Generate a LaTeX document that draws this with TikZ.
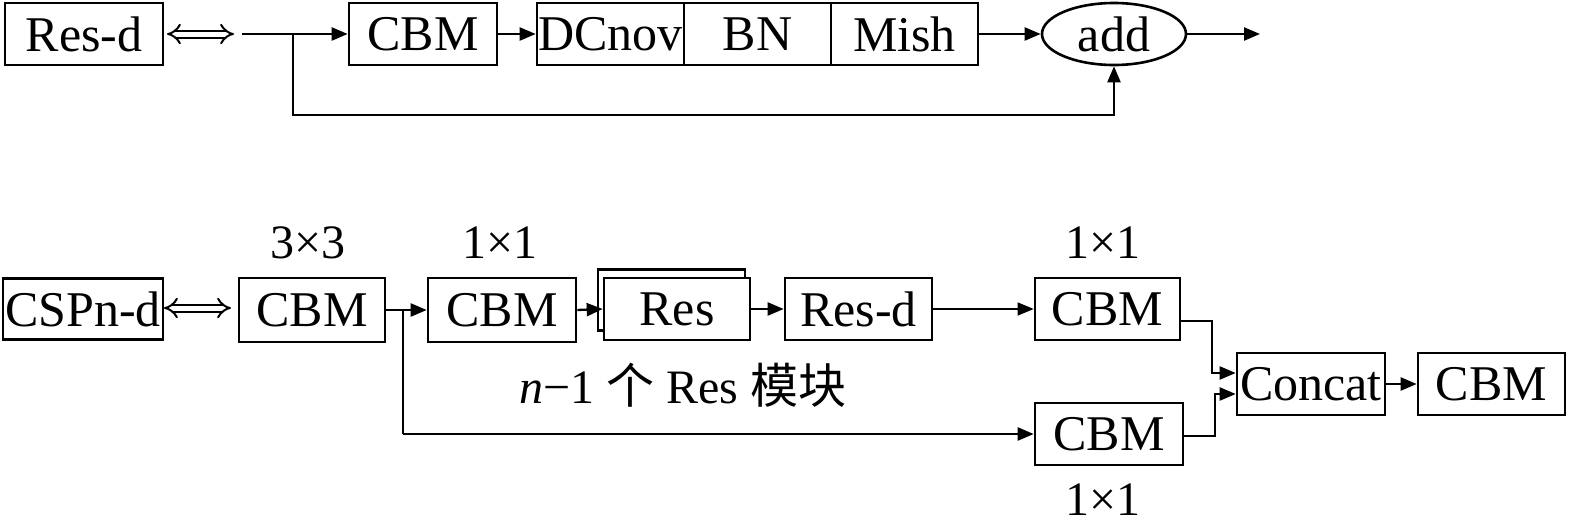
\documentclass[tikz,border=0pt]{standalone}
\usepackage{fontspec}
\setmainfont{Liberation Serif}
\newfontfamily\cjk{Noto Sans CJK SC}
\usetikzlibrary{arrows.meta,shapes.geometric}
\begin{document}
\begin{tikzpicture}[x=1pt,y=-1pt,
  box/.style={draw,line width=2.6pt,inner sep=0pt,font=\fontsize{50}{56}\selectfont,fill=white},
  lbl/.style={inner sep=0pt,font=\fontsize{48}{54}\selectfont},
  arr/.style={line width=2.3pt,-{Triangle[length=16pt,width=13pt]}},
  thin/.style={line width=1.1pt,-{Triangle[length=16pt,width=13pt]}},
  dbl/.style={double,double distance=5pt,line width=2pt,{Implies}-{Implies}}]
\useasboundingbox (0,0) rectangle (1575,530);
% ---------- top row ----------
\node[box,minimum width=158pt,minimum height=62pt] (resd1) at (84,34) {Res-d};
\coordinate (dA1) at (167,34);
\coordinate (dB1) at (234,34);
\draw[dbl] (dA1) -- (dB1);
\coordinate (in1) at (242,34);
\coordinate (br1) at (293,34);
\node[box,minimum width=148pt,minimum height=62pt] (cbm1) at (423,34) {CBM};
\node[box,minimum width=147pt,minimum height=62pt] (dc) at (610.5,34) {DCnov};
\node[box,minimum width=147pt,minimum height=62pt] (bn) at (757.5,34) {BN};
\node[box,minimum width=147pt,minimum height=62pt] (mish) at (904.5,34) {Mish};
\node[box,ellipse,minimum width=144pt,minimum height=62pt] (add) at (1114,34) {add};
\coordinate (out1) at (1260,34);
\coordinate (sk1) at (293,115);
\draw[arr] (in1) -- (cbm1.west);
\draw[arr] (cbm1.east) -- (dc.west);
\draw[arr] (mish.east) -- (add.west);
\draw[arr] (add.east) -- (out1);
\draw[arr] (br1) -- (sk1) -| (add.south);
% ---------- bottom row ----------
\node[box,minimum width=160pt,minimum height=61pt] (cspn) at (83,309) {CSPn-d};
\coordinate (dA2) at (164,308);
\coordinate (dB2) at (231,308);
\draw[dbl] (dA2) -- (dB2);
\node[box,minimum width=146pt,minimum height=64pt] (cbm2) at (312,310) {CBM};
\node[lbl] (l33) at (308,243) {3×3};
\node[box,minimum width=148pt,minimum height=64pt] (cbm3) at (502,310) {CBM};
\node[lbl] (l11a) at (500,243) {1×1};
\node[box,minimum width=147pt,minimum height=61pt] (resback) at (671.5,300) {};
\node[box,minimum width=146pt,minimum height=62pt] (res) at (677,309) {Res};
\node[box,minimum width=147pt,minimum height=62pt] (resd2) at (858.5,309) {Res-d};
\node[box,minimum width=145pt,minimum height=62pt] (cbm4) at (1107.5,309) {CBM};
\node[lbl] (l11b) at (1103,243) {1×1};
\node[box,minimum width=148pt,minimum height=62pt] (cbm5) at (1109,434) {CBM};
\node[lbl] (l11c) at (1103,500) {1×1};
\node[box,minimum width=148pt,minimum height=62pt] (concat) at (1311,384) {Concat};
\node[box,minimum width=147pt,minimum height=62pt] (cbm6) at (1491.5,384) {CBM};
\node[lbl] (txt) at (683,385) {\textit{n}−1 {\cjk\fontsize{48}{54}\selectfont 个} Res {\cjk\fontsize{48}{54}\selectfont 模块}};
\coordinate (br2) at (403,310);
\coordinate (sk2) at (403,434);
\draw[arr] (cbm2.east) -- (cbm3.west);
\draw[line width=2.3pt] (br2) -- (sk2);
\draw[arr] (sk2) -- (cbm5.west);
\draw[arr] (cbm3.east) -- (res.west);
\draw[arr] (res.east) -- (resd2.west);
\draw[thin] (resd2.east) -- (cbm4.west);
\coordinate (j1) at (1212,321);
\coordinate (j2) at (1215,436);
\draw[arr] ([yshift=-12pt]cbm4.east) -- (j1) |- ([yshift=11pt]concat.west);
\draw[arr] ([yshift=-2pt]cbm5.east) -- (j2) |- ([yshift=-10pt]concat.west);
\draw[arr] (concat.east) -- (cbm6.west);
\end{tikzpicture}
\end{document}
